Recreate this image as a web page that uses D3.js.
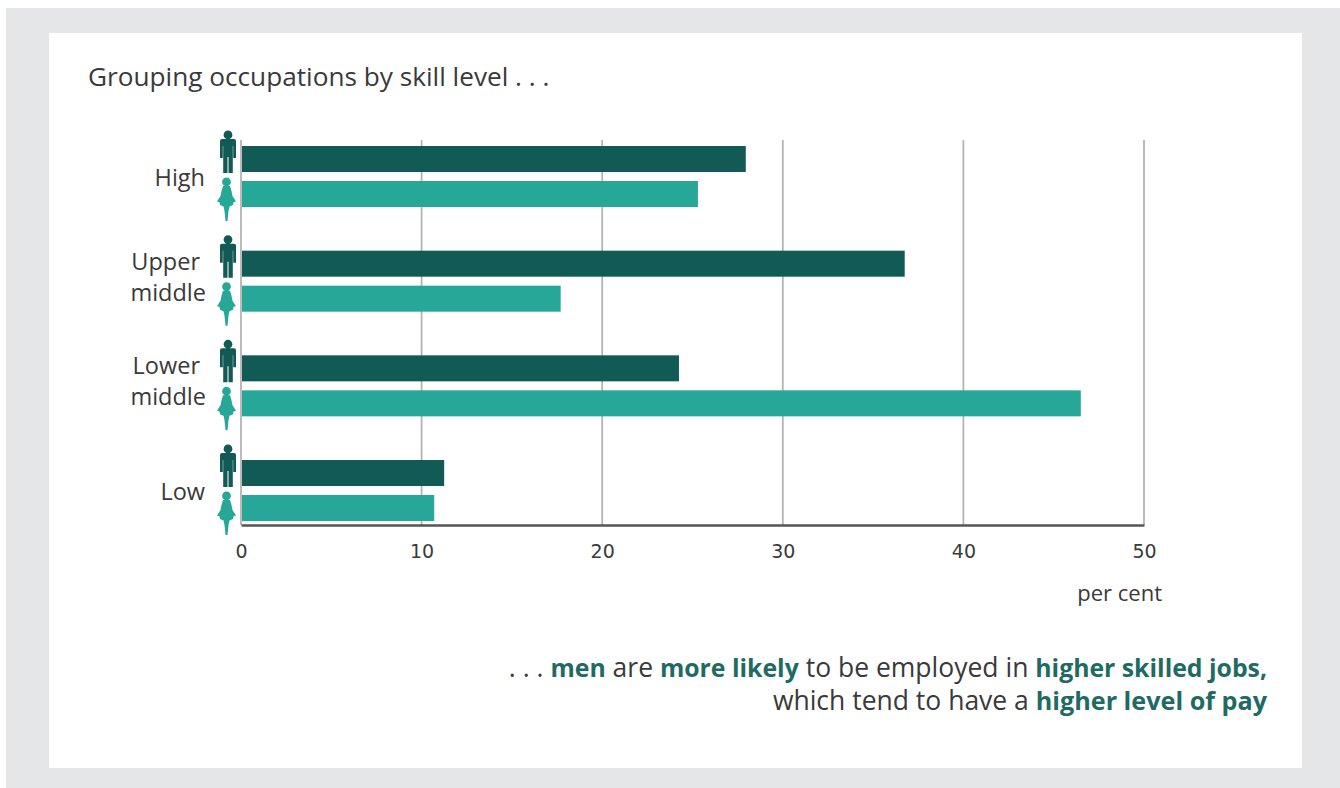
<!DOCTYPE html>
<html><head><meta charset="utf-8">
<script src="https://cdnjs.cloudflare.com/ajax/libs/d3/7.8.5/d3.min.js"></script>
<style>html,body{margin:0;padding:0;background:#fff}svg{display:block}text{font-family:"Open Sans",sans-serif;fill:#3a3a3a}</style>
</head><body><div id="chart"></div>
<script>
const categories = ["High","Upper middle","Lower middle","Low"];
const men = [27.95, 36.75, 24.25, 11.25];
const women = [25.3, 17.7, 46.5, 10.7];
const xTicks = [0,10,20,30,40,50];
const title = "Grouping occupations by skill level . . .";
const unitLabel = "per cent";
const noteLines = [
 [[". . . ",0],["men",1],[" are ",0],["more likely",1],[" to be employed in ",0],["higher skilled jobs,",1]],
 [["which tend to have a ",0],["higher level of pay",1]]
];
const DARK="#125a55", TEAL="#27a798", ACCENT="#1f6b64", GRID="#b4b4b4";

const svg=d3.select("#chart").append("svg").attr("width",1340).attr("height",788);
svg.append("rect").attr("x",6).attr("y",8).attr("width",1334).attr("height",780).attr("fill","#e5e6e8");
svg.append("rect").attr("x",49).attr("y",33).attr("width",1253).attr("height",735).attr("fill","#fff");

const x=d3.scaleLinear().domain([0,50]).range([241,1144]);
const y=d3.scaleBand().domain(categories).range([146,146+4*104.67]);
const sub=d3.scaleOrdinal().domain(["men","women"]).range([0,35]);
const barH=26;

svg.append("text").attr("x",88).attr("y",86).attr("font-size",26.2).text(title);

svg.append("g").selectAll("line").data(xTicks).join("line")
 .attr("x1",d=>x(d)).attr("x2",d=>x(d)).attr("y1",140).attr("y2",525)
 .attr("stroke",GRID).attr("stroke-width",1.8);

const rows=categories.map((c,i)=>({c,men:men[i],women:women[i]}));
const g=svg.append("g").selectAll("g").data(rows).join("g").attr("transform",d=>`translate(0,${y(d.c)})`);
g.append("rect").attr("x",x(0)+1).attr("y",sub("men")).attr("height",barH).attr("width",d=>x(d.men)-x(0)-1).attr("fill",DARK);
g.append("rect").attr("x",x(0)+1).attr("y",sub("women")).attr("height",barH).attr("width",d=>x(d.women)-x(0)-1).attr("fill",TEAL);

const manPath="M0,-21.5a4.4,4.4 0 0 1 0,8.8a4.4,4.4 0 0 1 0,-8.8ZM-6,-13H6a2,2 0 0 1 2,2V6H5.2V-6H4.8V21H0.5V5H-0.5V21H-4.8V-6H-5.2V6H-8V-11a2,2 0 0 1 2,-2Z";
const womanPath="M0,-21.5a4.4,4.4 0 0 1 0,8.8a4.4,4.4 0 0 1 0,-8.8ZM-3.5,-13H3.5L5,-8L6,-3L9.5,2.5L7,3.2L6.5,6L3,7.5L2,12L1,22H-1L-2,12L-3,7.5L-6.5,6L-7,3.2L-9.5,2.5L-6,-3L-5,-8Z";
g.append("path").attr("d",manPath).attr("fill",DARK).attr("transform",`translate(228,${sub("men")+6})`);
g.append("path").attr("d",womanPath).attr("fill",TEAL).attr("transform",`translate(226.5,${sub("women")+18})`);

g.each(function(d){
  const parts=d.c.split(" ");
  const sel=d3.select(this);
  const lineH=31;
  if(parts.length===1){
    sel.append("text").attr("x",205).attr("y",40).attr("text-anchor","end").attr("font-size",23.5).text(d.c);
  } else {
    parts.forEach((p,i)=>sel.append("text").attr("x",i===0?200:206).attr("y",19+i*lineH).attr("text-anchor","end").attr("font-size",23.5).text(p));
  }
});

const axis=d3.axisBottom(x).tickValues(xTicks).tickSize(0).tickPadding(20).tickFormat(d3.format("d"));
const ax=svg.append("g").attr("transform","translate(0,525)").call(axis);
ax.select(".domain").attr("stroke","#555").attr("stroke-width",2.6);
ax.selectAll("text").style("font-family","'DejaVu Sans'").attr("font-size",19).style("fill","#3a3a3a");

svg.append("text").attr("x",1162).attr("y",601).attr("text-anchor","end").attr("font-size",22).text(unitLabel);

noteLines.forEach((line,i)=>{
  const t=svg.append("text").attr("x",1267).attr("y",677+i*33).attr("text-anchor","end");
  t.selectAll("tspan").data(line).join("tspan").text(d=>d[0])
   .attr("font-size",d=>d[1]?(i===0?24.8:25.2):26.5)
   .attr("font-weight",d=>d[1]?700:400).style("fill",d=>d[1]?ACCENT:"#3a3a3a");
});
</script></body></html>
